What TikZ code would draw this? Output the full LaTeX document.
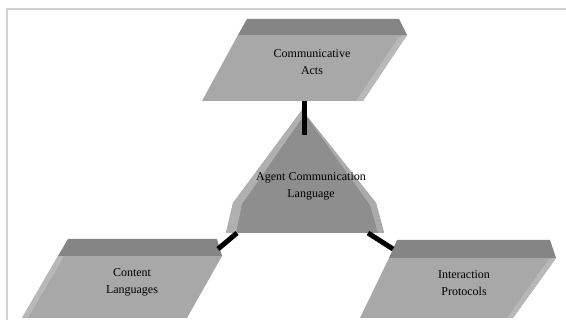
\documentclass[tikz,border=0pt]{standalone}
\usepackage{fontspec}
\setmainfont{Liberation Serif}
\definecolor{slabtop}{HTML}{858585}
\definecolor{slabface}{HTML}{A8A8A8}
\definecolor{slabedge}{HTML}{B8B8B8}
\definecolor{pyramid}{HTML}{8E8E8E}
\definecolor{framegray}{HTML}{D0D0D0}

\begin{document}
\begin{tikzpicture}[x=1pt,y=-1pt,
		band/.style={fill=slabtop},
		face/.style={fill=slabface},
		bevel/.style={fill=slabedge},
		lbl/.style={align=center,font=\fontsize{12}{17}\selectfont},
		link/.style={line width=5pt,black}]
			\useasboundingbox (0,0) rectangle (566,320);
			\draw[framegray,line width=2pt] (6.5,320) -- (6.5,9.5) -- (566,9.5);
			
			% communicative acts
			
			\fill[face] (238,35) -- (407,35) -- (363,101) -- (202,101) -- cycle;
			\fill[bevel] (407,35) -- (363,101) -- (356,101) -- (399,37) -- cycle;
			\fill[band] (247,19) -- (399,19) -- (407,35) -- (238,35) -- cycle;
			\node[lbl] (acts) at (312,62) {Communicative\\Acts};
			\coordinate (actsB) at (304,101);
			
			% content languages
			
			\fill[face] (58,256) -- (222,256) -- (187,318) -- (22,318) -- cycle;
			\fill[bevel] (58,256) -- (64,256) -- (28,318) -- (22,318) -- cycle;
			\fill[band] (68,239) -- (217,239) -- (222,256) -- (58,256) -- cycle;
			\node[lbl] (cont) at (132,282) {Content\\Languages};
			\coordinate (contR) at (218,249);
			
			% interaction protocols
			
			\fill[face] (389,258) -- (556,258) -- (513,318) -- (360,318) -- cycle;
			\fill[bevel] (556,258) -- (513,318) -- (507,318) -- (549,259) -- cycle;
			\fill[band] (397,240) -- (550,240) -- (556,258) -- (389,258) -- cycle;
			\node[lbl] (inter) at (464,283) {Interaction\\Protocols};
			\coordinate (interL) at (393,249);
			
			% agent communication language
			
			\fill[pyramid] (302,110) -- (376,203) -- (384,233) -- (226,233) -- (233,203) -- cycle;
			\fill[slabedge!80!pyramid] (302,110) -- (233,203) -- (226,233) -- (236,233) -- (242,204) -- (302,118) -- cycle;
			\fill[slabedge!70!pyramid] (302,110) -- (376,203) -- (384,233) -- (378,233) -- (370,205) -- cycle;
			\node[lbl] (acl) at (311,186) {Agent Communication\\Language};
			\coordinate (aclT) at (304,135);
			\coordinate (aclL) at (237,233);
			\coordinate (aclR) at (368,233);
			
			\draw[link] (actsB) -- (aclT);
			\draw[link] (aclL) -- (contR);
			\draw[link] (aclR) -- (interL);
		\end{tikzpicture}
\end{document}
